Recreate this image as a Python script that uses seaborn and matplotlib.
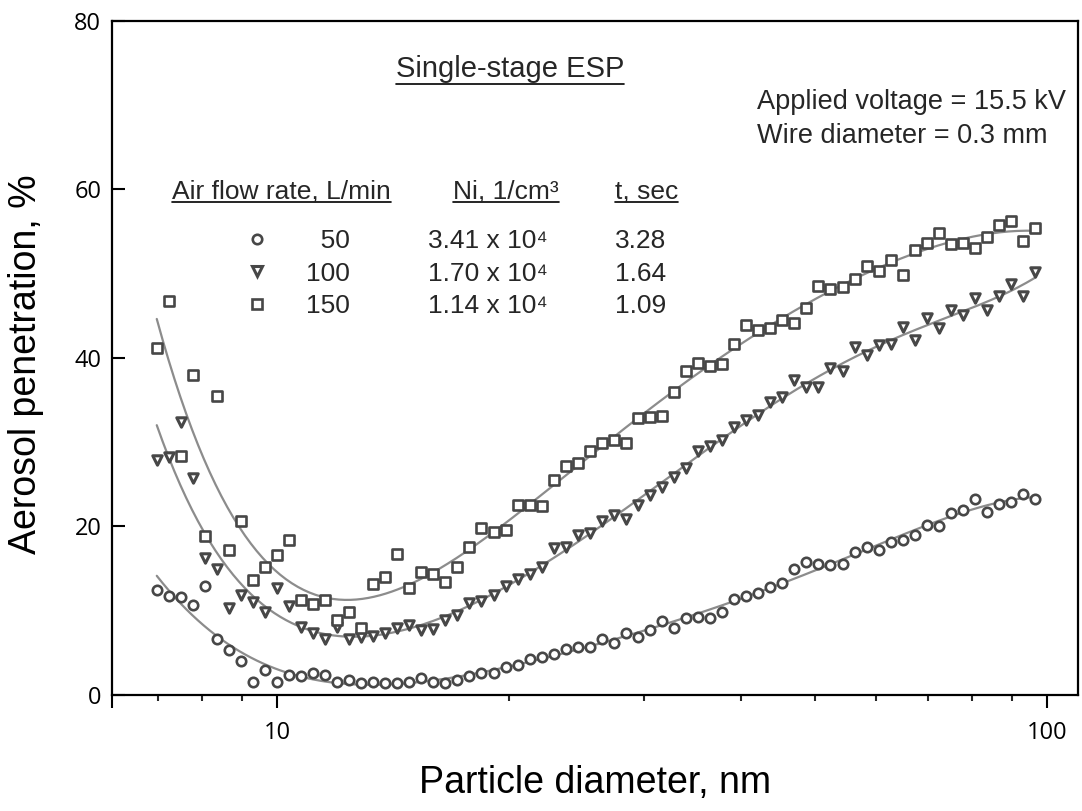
import numpy as np
import pandas as pd
import matplotlib
matplotlib.use("Agg")
import matplotlib.pyplot as plt
import matplotlib.ticker as mticker
from matplotlib.lines import Line2D
import seaborn as sns

# ---------------- data ----------------
diameter_nm = [6.98, 7.24, 7.50, 7.77, 8.06, 8.35, 8.66, 8.98, 9.31, 9.65,
               10.00, 10.37, 10.75, 11.14, 11.55, 11.97, 12.41, 12.86, 13.34, 13.82,
               14.33, 14.86, 15.40, 15.96, 16.55, 17.15, 17.78, 18.43, 19.11, 19.81,
               20.54, 21.29, 22.07, 22.88, 23.71, 24.58, 25.48, 26.42, 27.38, 28.39,
               29.43, 30.51, 31.62, 32.78, 33.98, 35.23, 36.52, 37.86, 39.24, 40.68,
               42.17, 43.71, 45.32, 46.98, 48.70, 50.48, 52.33, 54.25, 56.23, 58.29,
               60.43, 62.64, 64.94, 67.32, 69.78, 72.34, 74.99, 77.74, 80.58, 83.54,
               86.60, 89.77, 93.06, 96.47]

pen_50 = [12.5, 11.7, 11.6, 10.7, 12.9, 6.7, 5.3, 4.0, 1.6, 3.0,
          1.6, 2.4, 2.2, 2.6, 2.4, 1.6, 1.8, 1.4, 1.6, 1.4,
          1.4, 1.5, 2.0, 1.6, 1.4, 1.8, 2.2, 2.6, 2.6, 3.3,
          3.6, 4.3, 4.5, 4.9, 5.5, 5.7, 5.7, 6.6, 6.2, 7.3,
          6.9, 7.7, 8.8, 8.0, 9.1, 9.3, 9.1, 9.9, 11.4, 11.7,
          12.1, 12.8, 13.3, 15.0, 15.8, 15.5, 15.4, 15.6, 17.0, 17.6,
          17.2, 18.2, 18.4, 19.0, 20.2, 20.0, 21.6, 22.0, 23.3, 21.7,
          22.7, 22.9, 23.9, 23.3]

pen_100 = [27.9, 28.2, 32.4, 25.8, 16.2, 15.0, 10.3, 11.9, 11.0, 9.9,
           12.7, 10.5, 8.1, 7.3, 6.7, 8.1, 6.7, 6.9, 7.0, 7.4,
           7.9, 8.3, 7.7, 7.8, 8.9, 9.5, 10.9, 11.2, 11.9, 12.9,
           13.8, 14.4, 15.2, 17.4, 17.6, 19.0, 19.2, 20.6, 21.4, 20.9,
           22.5, 23.7, 24.7, 25.9, 26.9, 28.9, 29.5, 30.3, 31.8, 32.6,
           33.2, 34.8, 35.4, 37.4, 36.6, 36.6, 38.8, 38.4, 41.3, 40.3,
           41.5, 41.7, 43.7, 42.1, 44.7, 43.5, 45.7, 45.1, 47.1, 45.7,
           47.3, 48.8, 47.3, 50.2]

pen_150 = [41.2, 46.7, 28.4, 38.0, 18.9, 35.5, 17.2, 20.7, 13.6, 15.2,
           16.6, 18.4, 11.3, 10.8, 11.3, 8.9, 9.8, 8.0, 13.2, 14.0,
           16.7, 12.7, 14.6, 14.4, 13.4, 15.2, 17.6, 19.8, 19.3, 19.6,
           22.5, 22.5, 22.4, 25.5, 27.2, 27.5, 28.9, 29.9, 30.3, 29.9,
           32.9, 33.0, 33.1, 36.0, 38.4, 39.4, 39.0, 39.3, 41.7, 43.9,
           43.3, 43.5, 44.5, 44.1, 45.9, 48.5, 48.2, 48.4, 49.4, 50.9,
           50.3, 51.6, 49.8, 52.8, 53.6, 54.8, 53.5, 53.6, 53.0, 54.3,
           55.8, 56.2, 53.9, 55.4]

flow_rates = ["50", "100", "150"]
ni_labels = ["3.41 x 10\u2074", "1.70 x 10\u2074", "1.14 x 10\u2074"]
t_labels = ["3.28", "1.64", "1.09"]
markers = ["o", "v", "s"]

# ---------------- style ----------------
sns.set_theme(style="ticks")
plt.rcParams["font.family"] = ["Liberation Sans", "DejaVu Sans"]
NARROW = ["Liberation Sans Narrow", "Liberation Sans", "DejaVu Sans"]
TICKFONT = ["Open Sans", "DejaVu Sans"]

W, H = 1082, 811
fig = plt.figure(figsize=(W / 100, H / 100), dpi=100)
fig.patch.set_facecolor("white")
ax = fig.add_axes([111.7 / W, 1 - 695 / H, (1078 - 111.7) / W, (695 - 20.7) / H])
ax.set_facecolor("white")

df = pd.DataFrame({
    "d": diameter_nm * 3,
    "p": pen_50 + pen_100 + pen_150,
    "flow": ["50"] * len(pen_50) + ["100"] * len(pen_100) + ["150"] * len(pen_150),
})

edge = "#474747"
curve_col = "#8c8c8c"

# fitted smooth curves (polynomial in log d, computed from the data)
for flow, pen in zip(flow_rates, [pen_50, pen_100, pen_150]):
    lx = np.log10(np.array(diameter_nm))
    coef = np.polyfit(lx, np.array(pen), 6)
    xs = np.linspace(lx.min(), lx.max(), 300)
    fit = pd.DataFrame({"d": 10 ** xs, "p": np.polyval(coef, xs)})
    sns.lineplot(data=fit, x="d", y="p", ax=ax, color=curve_col, lw=1.6, zorder=2)

handles = []
for flow, mk in zip(flow_rates, markers):
    sub = df[df["flow"] == flow]
    lw = 2.2 if mk == "v" else 1.9
    sns.scatterplot(data=sub, x="d", y="p", ax=ax, marker=mk, s=46,
                    facecolor="white", edgecolor=edge, linewidth=lw, zorder=3)
    handles.append(Line2D([], [], ls="", marker=mk, ms=6.8, mfc="white",
                          mec=edge, mew=lw))

ax.set_xscale("log")
ax.set_xlim(6.1, 109.7)
ax.set_ylim(0, 80)
ax.set_xticks([6.1, 10, 100])
ax.set_xticklabels(["", "10", "100"])
ax.xaxis.set_minor_locator(mticker.LogLocator(base=10, subs=np.arange(2, 10)))
ax.xaxis.set_minor_formatter(mticker.NullFormatter())
ax.set_yticks([0, 20, 40, 60, 80])
ax.set_yticklabels(["0", "20", "40", "60", "80"])

for s in ax.spines.values():
    s.set_linewidth(1.6)
    s.set_color("black")
ax.tick_params(axis="x", which="major", direction="out", length=9.5, width=1.5,
               pad=9, labelsize=17, colors="black")
ax.tick_params(axis="x", which="minor", direction="out", length=4, width=1.5)
ax.tick_params(axis="y", which="major", direction="in", length=9.5, width=1.5,
               pad=7.5, labelsize=17, colors="black")
for lab in ax.get_xticklabels() + ax.get_yticklabels():
    lab.set_family(TICKFONT)

ax.set_xlabel("Particle diameter, nm", fontsize=27, family=NARROW, color="black")
ax.set_ylabel("Aerosol penetration, %", fontsize=27, family=NARROW, color="black")
ax.xaxis.set_label_coords(0.5, (695 - 765) / (695 - 20.7))
ax.yaxis.set_label_coords((44 - 111.7) / (1078 - 111.7), (695 - 364) / (695 - 20.7))


def fx(px):
    return px / W


def fy(py):
    return 1 - py / H


TS = 19  # table font size
underlined = []
t_title = fig.text(fx(510), fy(77), "Single-stage ESP", fontsize=21, family=NARROW,
                   ha="center", va="baseline")
underlined.append((t_title, 7))
fig.text(fx(757), fy(109), "Applied voltage = 15.5 kV", fontsize=19.5, family=NARROW,
         ha="left", va="baseline")
fig.text(fx(757), fy(143), "Wire diameter = 0.3 mm", fontsize=19.5, family=NARROW,
         ha="left", va="baseline")

hdr_y = 198
for x0, txt in [(172, "Air flow rate, L/min"), (453, "Ni, 1/cm\u00b3"), (615, "t, sec")]:
    t = fig.text(fx(x0), fy(hdr_y), txt, fontsize=TS, ha="left", va="baseline")
    underlined.append((t, 4))

leg = ax.legend(handles, ["\u2007" + flow_rates[0], flow_rates[1], flow_rates[2]],
                loc="upper left", bbox_to_anchor=(fx(245), fy(229)),
                bbox_transform=fig.transFigure, frameon=False, fontsize=TS,
                handlelength=0.9, handletextpad=1.42, labelspacing=0.33,
                borderpad=0, borderaxespad=0)

fig.canvas.draw()
inv = fig.transFigure.inverted()
for lt, ni, tt in zip(leg.get_texts(), ni_labels, t_labels):
    bb = lt.get_window_extent()
    yc = inv.transform((0, (bb.y0 + bb.y1) / 2))[1]
    fig.text(fx(428), yc, ni, fontsize=TS, ha="left", va="center")
    fig.text(fx(615), yc, tt, fontsize=TS, ha="left", va="center")

fig.canvas.draw()
r = fig.canvas.get_renderer()
for t, off in underlined:
    bb = t.get_window_extent(r)
    x0, x1 = bb.x0, bb.x1
    base_y = t.get_position()[1] * H - off  # display px (origin bottom)
    p0 = inv.transform((x0, base_y))
    p1 = inv.transform((x1, base_y))
    fig.add_artist(Line2D([p0[0], p1[0]], [p0[1], p1[1]], color="black", lw=1.2,
                          transform=fig.transFigure))

fig.savefig("out.png", dpi=100, facecolor="white")
